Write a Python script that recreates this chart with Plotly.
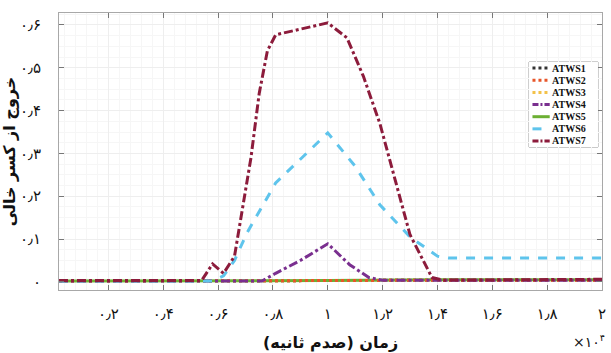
import plotly.graph_objects as go

# ---- data (time in hundredths of a second, void-fraction output) ----
series_names = ["ATWS1", "ATWS2", "ATWS3", "ATWS4", "ATWS5", "ATWS6", "ATWS7"]

t_flat = [200, 4000, 8000, 10000, 14000, 20000]
atws1 = [0.002, 0.002, 0.002, 0.003, 0.004, 0.004]
atws2 = [0.002, 0.002, 0.002, 0.003, 0.004, 0.004]
atws3 = [0.002, 0.002, 0.002, 0.003, 0.004, 0.004]
atws5 = [0.002, 0.002, 0.002, 0.003, 0.005, 0.005]

t4 = [200, 7600, 8100, 9000, 10000, 10800, 11500, 12000, 20000]
atws4 = [0.002, 0.002, 0.02, 0.05, 0.089, 0.04, 0.01, 0.004, 0.004]

t6 = [200, 5800, 6200, 6600, 7050, 8100, 10000, 11000, 11900, 13000, 14000, 14400, 20000]
atws6 = [0.002, 0.002, 0.014, 0.05, 0.114, 0.231, 0.348, 0.27, 0.18, 0.105, 0.06, 0.056, 0.056]

t7 = [200, 5400, 5800, 6200, 6600, 6900, 7200, 7500, 7800, 8100, 10000, 10700,
      11300, 11900, 13000, 13800, 14200, 20000]
atws7 = [0.003, 0.003, 0.042, 0.02, 0.06, 0.18, 0.29, 0.44, 0.54, 0.577, 0.605, 0.57,
         0.48, 0.37, 0.11, 0.01, 0.004, 0.006]

x_tickvals = [2000, 4000, 6000, 8000, 10000, 12000, 14000, 16000, 18000, 20000]
x_ticktext = ["۰٫۲", "۰٫۴", "۰٫۶", "۰٫۸", "۱", "۱٫۲", "۱٫۴", "۱٫۶", "۱٫۸", "۲"]
y_tickvals = [0, 0.1, 0.2, 0.3, 0.4, 0.5, 0.6]
y_ticktext = ["۰", "۰٫۱", "۰٫۲", "۰٫۳", "۰٫۴", "۰٫۵", "۰٫۶"]

x_title = "زمان (صدم ثانیه)\u200f"
y_title = "خروج از کسر خالی"
x_scale = "×۱۰<sup>۴</sup>"

colors = {
    "ATWS1": "#333333",
    "ATWS2": "#e8562a",
    "ATWS3": "#f3c24a",
    "ATWS4": "#7a2f8f",
    "ATWS5": "#6cb033",
    "ATWS6": "#5ec4ec",
    "ATWS7": "#8c1b3b",
}
dashes = {
    "ATWS1": "dot", "ATWS2": "dot", "ATWS3": "dot", "ATWS4": "dashdot",
    "ATWS5": "solid", "ATWS6": "dash", "ATWS7": "dashdot",
}
data = {
    "ATWS1": (t_flat, atws1), "ATWS2": (t_flat, atws2), "ATWS3": (t_flat, atws3),
    "ATWS4": (t4, atws4), "ATWS5": (t_flat, atws5), "ATWS6": (t6, atws6),
    "ATWS7": (t7, atws7),
}
draw_order = ["ATWS1", "ATWS3", "ATWS5", "ATWS2", "ATWS4", "ATWS6", "ATWS7"]

fig = go.Figure()
for name in draw_order:
    xs, ys = data[name]
    fig.add_trace(go.Scatter(
        x=xs, y=ys, mode="lines", name=name, showlegend=False,
        line=dict(color=colors[name], dash=dashes[name], width=3),
    ))

# compact legend drawn in its own small axes
n = len(series_names)
for i, name in enumerate(series_names):
    fig.add_trace(go.Scatter(
        x=[0.05, 0.3], y=[n - 0.5 - i] * 2, xaxis="x2", yaxis="y2",
        mode="lines", showlegend=False, hoverinfo="skip",
        line=dict(color=colors[name],
                  dash=dashes[name] if dashes[name] != "dashdot" else "6px,2px,2px,2px",
                  width=3),
    ))
    fig.add_annotation(
        text=name, xref="x2", yref="y2", x=0.31, y=n - 0.5 - i,
        xanchor="left", yanchor="middle", showarrow=False,
        font=dict(family="Liberation Serif", size=10, color="#111111", weight="bold"),
    )
fig.add_shape(
    type="rect", xref="x2 domain", yref="y2 domain", x0=0, x1=1, y0=0, y1=1,
    line=dict(color="#9a9a9a", width=1), fillcolor="white", layer="below",
)

fa = "DejaVu Sans"
axis_common = dict(
    showline=True, linecolor="#a8a8a8", linewidth=1, mirror="ticks",
    ticks="inside", ticklen=5, tickcolor="#777777", automargin=False,
    showgrid=True, gridcolor="#eeeeee", gridwidth=1, zeroline=False,
    tickfont=dict(family=fa, size=15, color="#111111"),
)

fig.update_layout(
    xaxis=dict(
        range=[200, 20000], tickvals=x_tickvals, ticktext=x_ticktext,
        minor=dict(dtick=400, showgrid=True, gridcolor="#f6f6f6", ticks=""),
        ticklabelstandoff=10,
        title=dict(text=x_title, font=dict(family=fa, size=16, color="#111111", weight="bold"),
                   standoff=14),
        **axis_common,
    ),
    yaxis=dict(
        range=[-0.019, 0.628], tickvals=y_tickvals, ticktext=y_ticktext,
        minor=dict(dtick=0.025, showgrid=True, gridcolor="#f6f6f6", ticks=""),
        ticklabelstandoff=14,
        title=dict(text=y_title, font=dict(family=fa, size=16, color="#111111", weight="bold"),
                   standoff=10),
        **axis_common,
    ),
    xaxis2=dict(domain=[0.8656, 0.9926], range=[0, 1], anchor="y2", visible=False,
                showgrid=False, zeroline=False, fixedrange=True, automargin=False),
    yaxis2=dict(domain=[0.516, 0.823], range=[0, n], anchor="x2", visible=False,
                showgrid=False, zeroline=False, fixedrange=True, automargin=False),
)

fig.add_annotation(
    text=x_scale, xref="paper", yref="paper", x=1.01, y=-0.184,
    xanchor="right", yanchor="middle", showarrow=False,
    font=dict(family=fa, size=14, color="#111111"),
)

fig.update_layout(
    width=611, height=353,
    margin=dict(l=59, r=9, t=13, b=63, autoexpand=False),
    paper_bgcolor="white", plot_bgcolor="white",
    showlegend=False,
)

fig.write_html("out.html")
